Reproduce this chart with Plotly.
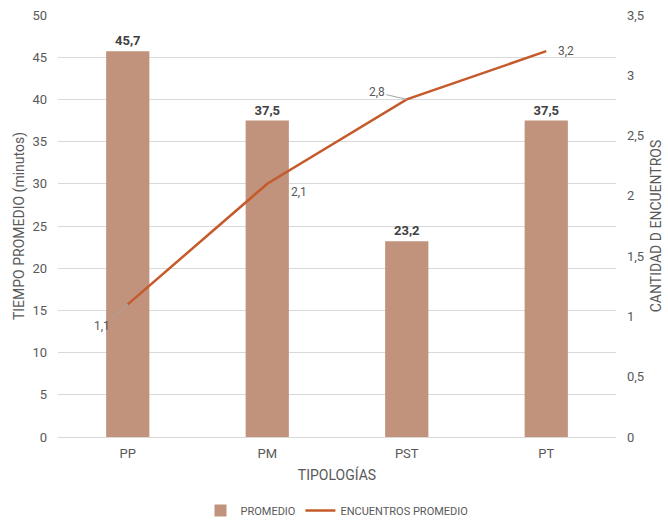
import plotly.graph_objects as go

categorias = ["PP", "PM", "PST", "PT"]
tiempo_promedio = [45.7, 37.5, 23.2, 37.5]
encuentros_promedio = [1.1, 2.1, 2.8, 3.2]

FONT = "Liberation Sans Narrow, Arial Narrow, Roboto, sans-serif"
GRIS = "#595959"
COLOR_BARRA = "#C1937D"
COLOR_LINEA = "#C55A2B"

fig = go.Figure()

fig.add_trace(go.Bar(
    x=categorias, y=tiempo_promedio, name="PROMEDIO",
    marker=dict(color=COLOR_BARRA, line=dict(width=0)),
    width=0.31,
    text=[f"{v:.1f}".replace(".", ",") for v in tiempo_promedio],
    textposition="outside", cliponaxis=False,
    textfont=dict(family=FONT, size=13, color="#404040", weight="bold"),
    yaxis="y",
))

fig.add_trace(go.Scatter(
    x=categorias, y=encuentros_promedio, name="ENCUENTROS PROMEDIO",
    mode="lines", line=dict(color=COLOR_LINEA, width=2.5),
    yaxis="y2",
))

# Etiquetas de la serie de encuentros (con líneas guía donde corresponde)
offsets = [(-26, 22, True), (32, 8, False), (-30, -7, True), (20, 0, False)]
for cat, val, (ax, ay, guia) in zip(categorias, encuentros_promedio, offsets):
    fig.add_annotation(
        x=cat, y=val, xref="x", yref="y2",
        text=f"{val:.1f}".replace(".", ","),
        showarrow=True, arrowhead=0, arrowwidth=1,
        arrowcolor="#A6A6A6" if guia else "rgba(0,0,0,0)",
        ax=ax, ay=ay, standoff=0,
        font=dict(family=FONT, size=12, color=GRIS),
    )

fig.update_layout(
    width=668, height=521,
    margin=dict(l=58, r=52, t=15, b=84, autoexpand=False),
    paper_bgcolor="white", plot_bgcolor="white",
    separators=", ",
    font=dict(family=FONT, size=12, color=GRIS),
    showlegend=True,
    legend=dict(orientation="h", x=0.5, xanchor="center",
                yref="container", y=0.02, yanchor="middle",
                font=dict(family=FONT, size=11, color=GRIS)),
    xaxis=dict(
        title=dict(text="TIPOLOGÍAS", font=dict(family=FONT, size=14, color=GRIS), standoff=10),
        showgrid=False, showline=False, ticks="", automargin=False,
        tickfont=dict(family=FONT, size=13, color=GRIS), ticklabelstandoff=7,
    ),
    yaxis=dict(
        title=dict(text="TIEMPO PROMEDIO (minutos)", font=dict(family=FONT, size=14, color=GRIS), standoff=4),
        range=[0, 50], dtick=5, showgrid=True, gridcolor="#D9D9D9", gridwidth=1,
        zeroline=True, zerolinecolor="#D9D9D9", zerolinewidth=1, automargin=False,
        tickfont=dict(family=FONT, size=13, color=GRIS), ticklabelstandoff=10,
    ),
    yaxis2=dict(
        title=dict(text="CANTIDAD D ENCUENTROS", font=dict(family=FONT, size=14, color=GRIS), standoff=8),
        range=[0, 3.5], dtick=0.5, overlaying="y", side="right", showgrid=False,
        zeroline=False, automargin=False,
        tickfont=dict(family=FONT, size=13, color=GRIS), ticklabelstandoff=10,
    ),
)

fig.write_html("out.html")
